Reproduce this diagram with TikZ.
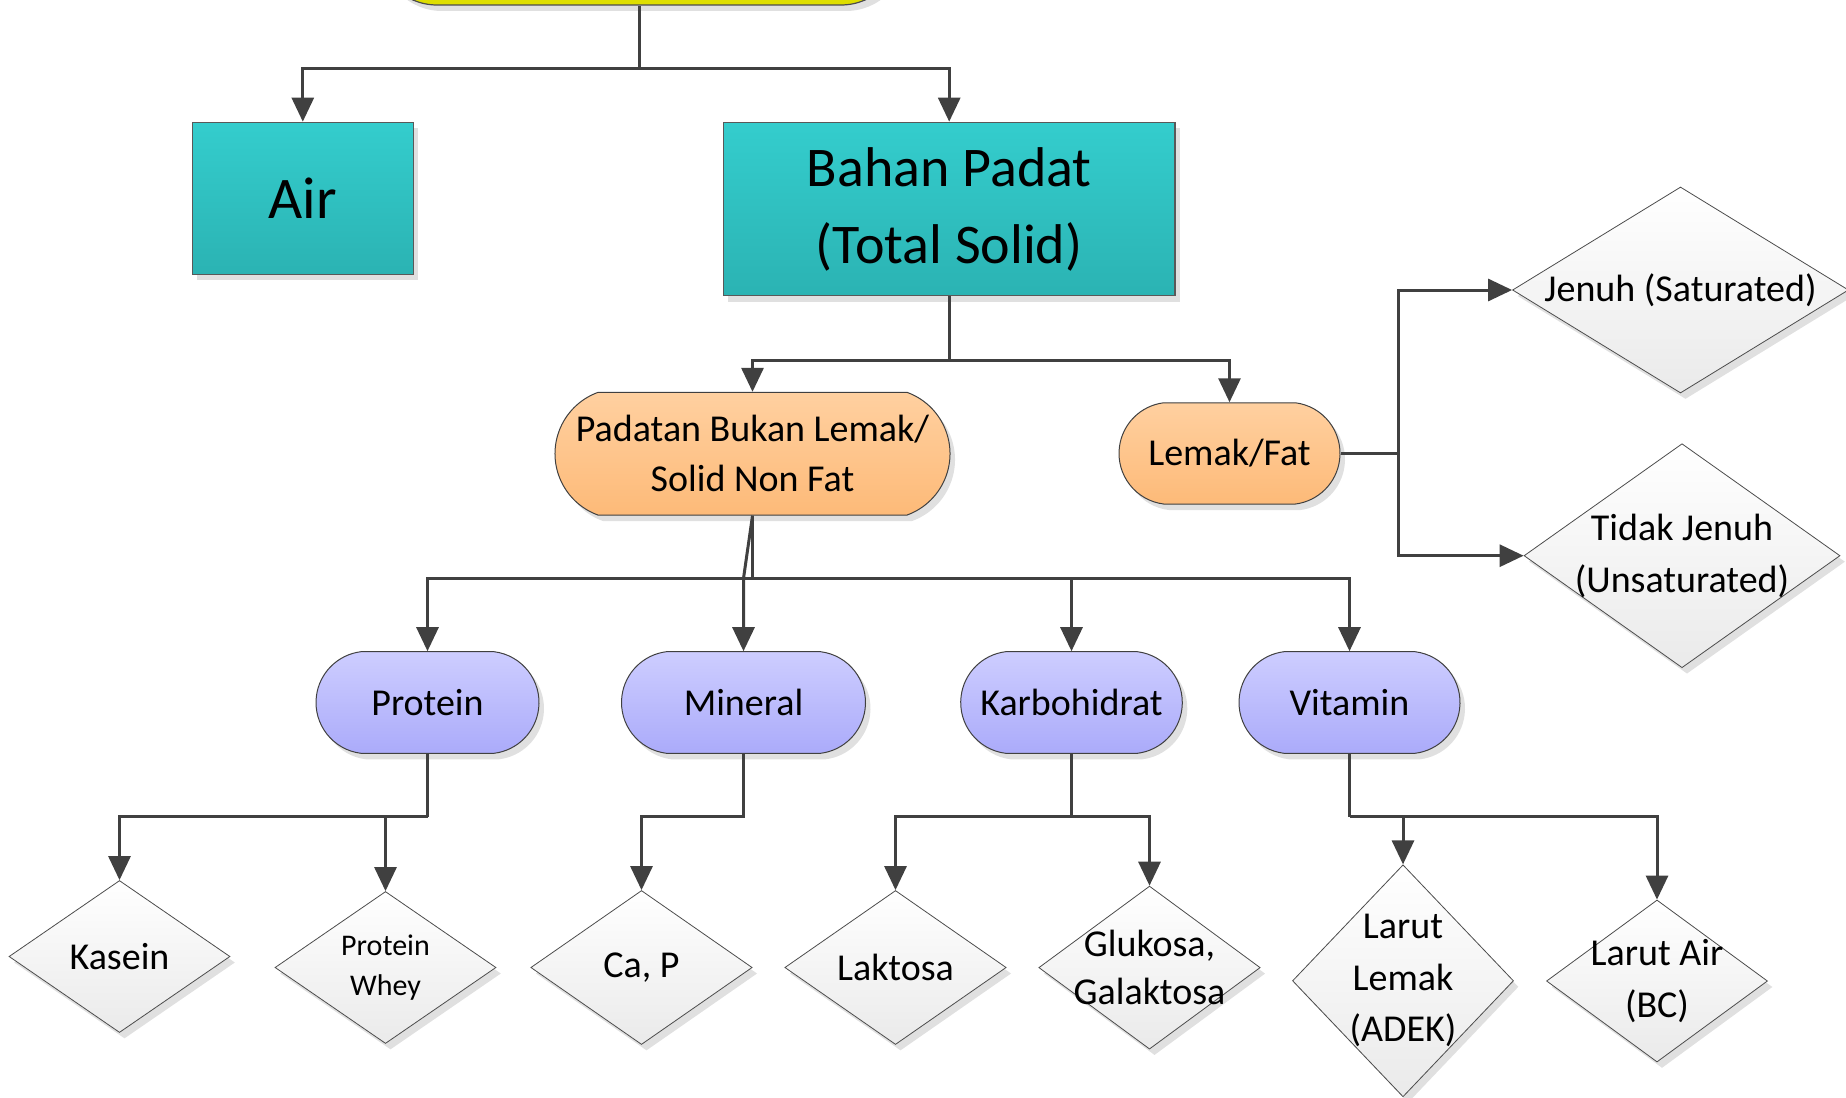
\documentclass[tikz,border=0pt]{standalone}
\usepackage{fontspec}
\setmainfont{Carlito}
\usetikzlibrary{shapes.geometric,shapes.misc,shadows,arrows.meta}
\definecolor{lineC}{HTML}{404040}
\definecolor{tealT}{HTML}{34CDCD}
\definecolor{tealB}{HTML}{2BB3B3}
\definecolor{orT}{HTML}{FFD0A0}
\definecolor{orB}{HTML}{FDBA78}
\definecolor{blT}{HTML}{CDCDFF}
\definecolor{blB}{HTML}{ABABFA}
\definecolor{diaB}{HTML}{EAEAEA}
\definecolor{yelT}{HTML}{E6E600}
\definecolor{yelB}{HTML}{DEDE00}
\newcommand\fsz[2]{\fontsize{#1}{#2}\selectfont}
\begin{document}
\begin{tikzpicture}[x=1pt,y=-1pt,
  conn/.style={draw=lineC, line width=3pt},
  arr/.style={conn, -{Triangle[length=24pt,width=22pt]}},
  shadowed/.style={drop shadow={shadow xshift=5pt, shadow yshift=-6pt, fill=black!12, opacity=1}},
  tealbox/.style={rectangle, draw=black!65, line width=1.3pt, top color=tealT, bottom color=tealB, shadowed, inner sep=0pt, align=center},
  pill/.style={rounded rectangle, rounded rectangle arc length=166, draw=black!75, line width=1pt, shadowed, inner sep=0pt, align=center, font=\fsz{38}{51}},
  orangepill/.style={pill, top color=orT, bottom color=orB},
  bluepill/.style={pill, top color=blT, bottom color=blB, minimum height=101.6pt},
  dia/.style={diamond, draw=black!70, line width=0.8pt, top color=white, bottom color=diaB, shadowed, inner sep=0pt},
  diatext/.style={font=\fsz{38}{51.5}, align=center}
]
\useasboundingbox (0,0) rectangle (1846,1097);
\clip (0,0) rectangle (1846,1097);

% top node (partially visible)
\node[rectangle, rounded corners=60pt, draw=black!70, line width=1.2pt, top color=yelT, bottom color=yelB, shadowed, minimum width=524pt, minimum height=130pt] (topnode) at (639,-60) {};

% level 1
\node[tealbox, minimum width=221pt, minimum height=152pt, font=\fsz{59}{70}] (air) at (302.8,198.3) {Air};
\node[tealbox, minimum width=451.7pt, minimum height=173.4pt, font=\fsz{56}{77}] (bahan) at (949.2,209) {Bahan Padat\\(Total Solid)};

% level 2
\node[orangepill, rounded rectangle arc length=140, minimum width=395pt, minimum height=122.7pt, font=\fsz{38}{50}] (padatan) at (752.5,453.7) {Padatan Bukan Lemak/\\Solid Non Fat};
\node[orangepill, minimum width=221pt, minimum height=101.3pt] (lemak) at (1229.5,453.4) {Lemak/Fat};

% fat types
\node[dia, minimum width=336pt, minimum height=206pt, label={[name=jenuhT, diatext]center:{Jenuh (Saturated)}}] (jenuh) at (1680.5,290) {};
\node[dia, minimum width=316pt, minimum height=224pt, label={[name=tidakT, diatext]center:{Tidak Jenuh\\(Unsaturated)}}] (tidak) at (1682,555.7) {};

% level 3
\node[bluepill, minimum width=223pt] (protein) at (427.5,702.5) {Protein};
\node[bluepill, minimum width=244pt] (mineral) at (743.5,702.5) {Mineral};
\node[bluepill, minimum width=221.6pt] (karbo) at (1071.5,702.5) {Karbohidrat};
\node[bluepill, minimum width=221pt] (vitamin) at (1349.5,702.5) {Vitamin};

% level 4
\node[dia, minimum width=221pt, minimum height=152pt, label={[name=kaseinT, diatext]center:{Kasein}}] (kasein) at (119.5,956.5) {};
\node[dia, minimum width=221pt, minimum height=152pt, label={[name=wheyT, font=\fsz{30}{40}, align=center]center:{Protein\\Whey}}] (whey) at (385.5,967.5) {};
\node[dia, minimum width=221.4pt, minimum height=154pt, label={[name=capT, diatext]center:{Ca, P}}] (cap) at (641.5,967.5) {};
\node[dia, minimum width=221.4pt, minimum height=154pt, label={[name=laktosaT, diatext]center:{Laktosa}}] (laktosa) at (895.5,967.5) {};
\node[dia, minimum width=221.4pt, minimum height=163pt, label={[name=glukosaT, font=\fsz{38}{48}, align=center]center:{Glukosa,\\Galaktosa}}] (glukosa) at (1149.5,967.6) {};
\node[dia, minimum width=221pt, minimum height=232pt, label={[name=larutlemakT, diatext]center:{Larut\\Lemak\\(ADEK)}}] (larutlemak) at (1403,980.8) {};
\node[dia, minimum width=221pt, minimum height=162pt, label={[name=larutairT, diatext]center:{Larut Air\\(BC)}}] (larutair) at (1657,981) {};

% connectors
\coordinate (b1) at (639,69);
\draw[conn] (topnode.south) -- (b1);
\draw[arr] (b1) -| (air.north);
\draw[arr] (b1) -| (bahan.north);

\coordinate (b2) at (949.2,360);
\draw[conn] (bahan.south) -- (b2);
\draw[arr] (b2) -| (padatan.north);
\draw[arr] (b2) -| (lemak.north);

\coordinate (b3) at (752.5,578.5);
\coordinate (b3m) at (743.5,578.5);
\draw[conn] (padatan.south) -- (b3);
\draw[arr] (b3) -| (protein.north);
\draw[arr] (b3) -| (karbo.north);
\draw[arr] (b3) -| (vitamin.north);
\draw[arr] (padatan.south) -- (b3m) -- (mineral.north);

\coordinate (b4) at (1398,453.4);
\draw[conn] (lemak.east) -- (b4);
\draw[arr] (b4) |- (jenuh.west);
\draw[arr] (b4) |- (tidak.west);

\coordinate (b5) at (427.5,816.5);
\draw[conn] (protein.south) -- (b5);
\draw[arr] (b5) -| (kasein.north);
\draw[arr] (b5) -| (whey.north);

\coordinate (b6) at (743.5,816);
\draw[arr] (mineral.south) -- (b6) -| (cap.north);

\coordinate (b7) at (1071.5,816);
\draw[conn] (karbo.south) -- (b7);
\draw[arr] (b7) -| (laktosa.north);
\draw[arr] (b7) -| (glukosa.north);

\coordinate (b8) at (1349.5,816.5);
\draw[conn] (vitamin.south) -- (b8);
\draw[arr] (b8) -| (larutlemak.north);
\draw[arr] (b8) -| (larutair.north);
\end{tikzpicture}
\end{document}
